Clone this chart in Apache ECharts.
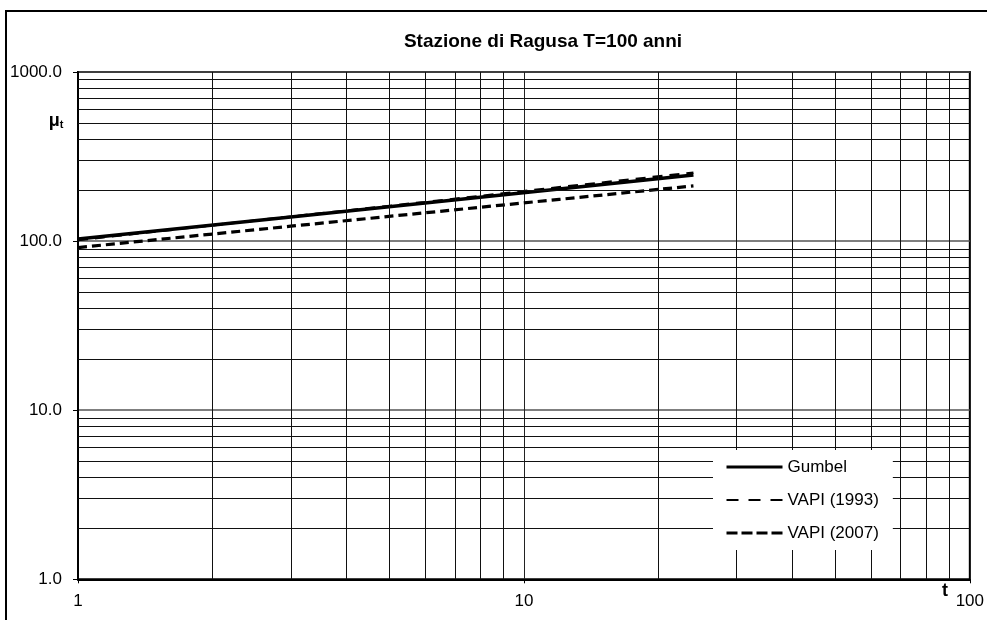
<!DOCTYPE html>
<html>
<head>
<meta charset="utf-8">
<script src="https://cdn.jsdelivr.net/npm/echarts@6/dist/echarts.min.js"></script>
<style>
html,body{margin:0;padding:0;background:#fff;}
#chart{width:987px;height:620px;}
</style>
</head>
<body>
<div id="chart"></div>
<script>
// Durations t (hours)
const durations = [1, 3, 6, 12, 24];
// Series values (mu_t)
const gumbel = [103, 139, 168, 203, 246];
const vapi1993 = [101.5, 139.5, 170, 208, 254];
const vapi2007 = [91.6, 122.5, 147, 176.5, 212];
const seriesNames = ['Gumbel', 'VAPI (1993)', 'VAPI (2007)'];
// Minor grid values on log axes
const xMinor = [2, 3, 4, 5, 6, 7, 8, 9, 20, 30, 40, 50, 60, 70, 80, 90];
const yMinor = [2, 3, 4, 5, 6, 7, 8, 9, 20, 30, 40, 50, 60, 70, 80, 90, 200, 300, 400, 500, 600, 700, 800, 900];
const titleText = 'Stazione di Ragusa T=100 anni';

const FONT = '"Liberation Sans", Arial, sans-serif';
const chart = echarts.init(document.getElementById('chart'), null, {renderer: 'canvas'});

function pairs(vals) { return durations.map((t, i) => [t, vals[i]]); }

const gridLineMarks = [];
xMinor.forEach(v => gridLineMarks.push({xAxis: v}));
yMinor.forEach(v => gridLineMarks.push({yAxis: v}));

const lineStyles = [
  {color: '#000', width: 3.5, type: 'solid'},
  {color: '#000', width: 2.5, type: [10, 7]},
  {color: '#000', width: 3.2, type: [9, 5]}
];
const legendLineStyles = [
  {color: '#000', width: 3, type: 'solid'},
  {color: '#000', width: 2.2, type: [12, 10]},
  {color: '#000', width: 3, type: [11, 4]}
];

const option = {
  animation: false,
  backgroundColor: '#fff',
  grid: {left: 78, top: 72, right: 14.3, bottom: 40.7, show: true, borderColor: '#000', borderWidth: 2, backgroundColor: 'transparent'},
  xAxis: {
    type: 'log', logBase: 10, min: 1, max: 100,
    axisLine: {show: true, lineStyle: {color: '#000', width: 2}},
    axisTick: {show: true, length: 4, lineStyle: {color: '#000'}},
    splitLine: {show: true, lineStyle: {color: '#222', width: 1}},
    axisLabel: {color: '#000', fontFamily: FONT, fontSize: 17, margin: 14,
      formatter: v => String(Math.round(v))}
  },
  yAxis: {
    type: 'log', logBase: 10, min: 1, max: 1000,
    axisLine: {show: true, lineStyle: {color: '#000', width: 2}},
    axisTick: {show: true, length: 5, lineStyle: {color: '#000'}},
    splitLine: {show: true, lineStyle: {color: '#555', width: 1.5}},
    axisLabel: {color: '#000', fontFamily: FONT, fontSize: 17, margin: 16,
      formatter: v => Number(v).toFixed(1)}
  },
  legend: {
    data: seriesNames.map((n, i) => ({name: n, lineStyle: legendLineStyles[i], itemStyle: {opacity: 0}})),
    orient: 'vertical',
    left: 713, top: 450,
    padding: [7, 14, 7, 12],
    itemGap: 13,
    itemWidth: 56, itemHeight: 14,
    itemStyle: {opacity: 0},
    backgroundColor: '#fff',
    z: 10,
    textStyle: {color: '#000', fontFamily: FONT, fontSize: 17, lineHeight: 20}
  },
  series: [
    {
      name: 'grid', type: 'line', data: [], z: 1, silent: true,
      markLine: {silent: true, symbol: ['none', 'none'], label: {show: false},
        lineStyle: {color: '#111', width: 1, type: 'solid'}, data: gridLineMarks, animation: false}
    },
    {name: seriesNames[0], type: 'line', data: pairs(gumbel), symbol: 'none', z: 3,
      color: '#000', lineStyle: lineStyles[0]},
    {name: seriesNames[1], type: 'line', data: pairs(vapi1993), symbol: 'none', z: 3,
      color: '#000', lineStyle: lineStyles[1]},
    {name: seriesNames[2], type: 'line', data: pairs(vapi2007), symbol: 'none', z: 3,
      color: '#000', lineStyle: lineStyles[2]}
  ],
  graphic: [
    {type: 'rect', shape: {x: 6, y: 11, width: 1100, height: 800}, style: {fill: 'none', stroke: '#000', lineWidth: 2}, z: 0, silent: true},
    {type: 'rect', shape: {x: 713, y: 450, width: 179, height: 100}, style: {fill: '#fff'}, z: 5, silent: true},
    {type: 'text', x: 543, y: 42, style: {text: titleText, fill: '#000', font: 'bold 19px ' + FONT, textAlign: 'center', textVerticalAlign: 'middle'}},
    {type: 'text', x: 56, y: 121, style: {
      text: '{m|μ}{s|t}', textAlign: 'center', textVerticalAlign: 'middle',
      rich: {m: {font: 'bold 18px ' + FONT, fill: '#000'}, s: {font: 'bold 11px ' + FONT, fill: '#000', padding: [8, 0, 0, 0]}}
    }},
    {type: 'text', x: 945, y: 591, style: {text: 't', fill: '#000', font: 'bold 18px ' + FONT, textAlign: 'center', textVerticalAlign: 'middle'}}
  ]
};
chart.setOption(option);
</script>
</body>
</html>
